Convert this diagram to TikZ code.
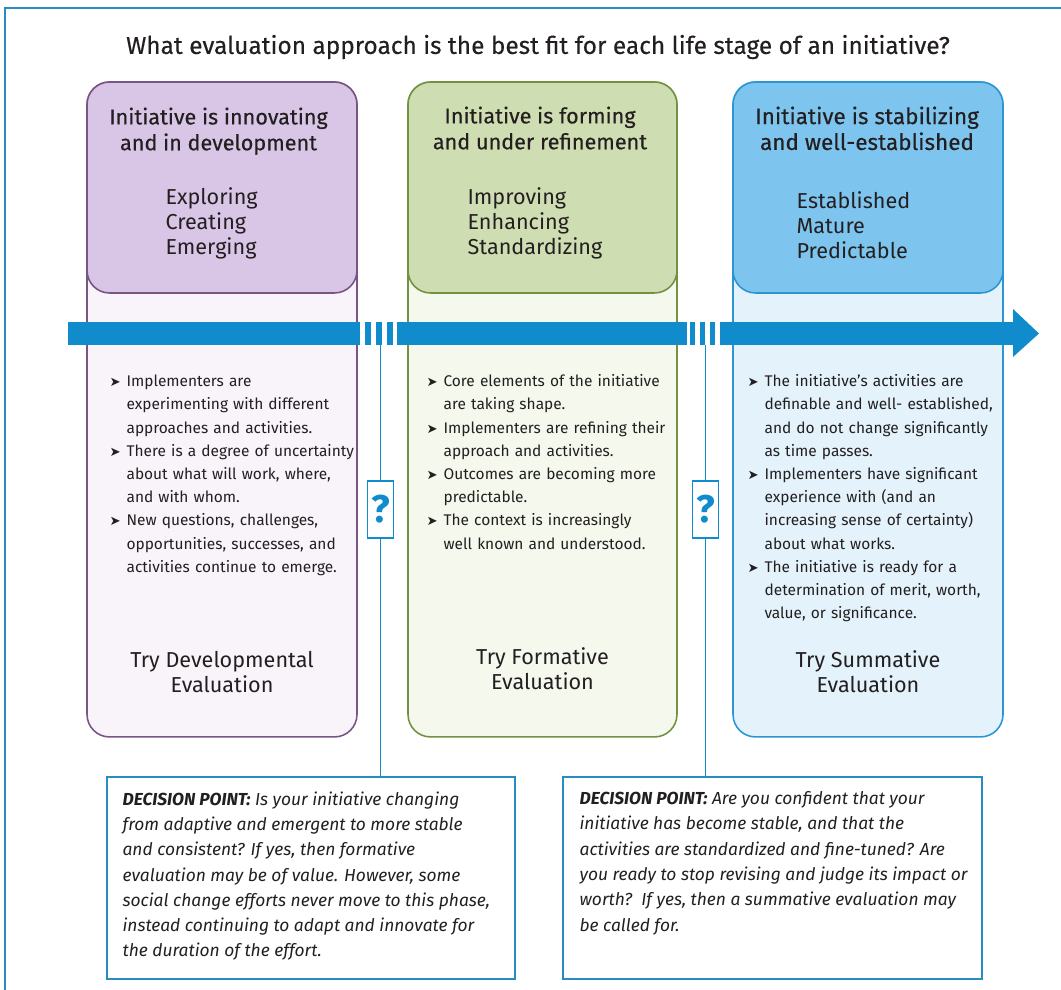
\documentclass[tikz,border=0pt]{standalone}
\usepackage{fontspec}
\setmainfont{Fira Sans}
\newfontfamily\arrowfont{DejaVu Sans}
\newfontfamily\headfont[FakeBold=0.35]{Fira Sans}
\usetikzlibrary{shapes.geometric}

\definecolor{framebl}{RGB}{40,140,195}
\definecolor{arrowbl}{RGB}{16,140,205}
\definecolor{inkgrey}{RGB}{35,31,32}
\definecolor{purpleedge}{RGB}{120,85,130}
\definecolor{purplefill}{RGB}{217,197,229}
\definecolor{purplepale}{RGB}{248,244,250}
\definecolor{greenedge}{RGB}{115,145,65}
\definecolor{greenfill}{RGB}{207,222,178}
\definecolor{greenpale}{RGB}{244,248,237}
\definecolor{blueedge}{RGB}{45,150,210}
\definecolor{bluefill}{RGB}{125,197,238}
\definecolor{bluepale}{RGB}{227,242,251}

\tikzstyle{stagebody} = [rectangle, rounded corners=0.45cm, minimum height=13.1cm, line width=0.9pt]
\tikzstyle{stagehead} = [rectangle, rounded corners=0.45cm, minimum height=4.22cm, line width=0.9pt]
\tikzstyle{headtitle} = [align=center, inner sep=0pt, text=inkgrey, font=\headfont\fontsize{12.3}{14.7}\selectfont]
\tikzstyle{headwords} = [align=left, inner sep=0pt, text=inkgrey, font=\fontsize{12.3}{14.2}\selectfont]
\tikzstyle{points} = [align=left, text width=5.2cm, inner sep=0pt, text=inkgrey, font=\fontsize{8.8}{13.2}\selectfont]
\tikzstyle{trytext} = [align=center, inner sep=0pt, text=inkgrey, font=\fontsize{12.3}{14.2}\selectfont]
\tikzstyle{qbox} = [rectangle, draw=arrowbl, fill=white, line width=0.8pt, minimum width=0.52cm, minimum height=1.14cm, inner sep=0pt, text=arrowbl, font=\bfseries\fontsize{22}{22}\selectfont]
\tikzstyle{decision} = [rectangle, draw=framebl, fill=white, line width=0.9pt, minimum height=4.04cm]
\tikzstyle{dptext} = [align=left, inner sep=0pt, text=inkgrey, font=\itshape\fontsize{9.9}{14.4}\selectfont]
\tikzstyle{link} = [draw=arrowbl, line width=0.7pt]

\newcommand{\stagepoint}{\par\noindent\hangindent=1.1em\hangafter=1\makebox[1.1em][l]{\arrowfont\fontsize{7.5}{7.5}\selectfont ➤}}

\begin{document}
\begin{tikzpicture}[x=0.02cm, y=-0.02cm]
    \useasboundingbox (0,0) rectangle (1061,990);
    \draw[framebl, line width=0.9pt] (5,990) -- (5,8) -- (1061,8);

    \node (question) [font=\headfont\fontsize{13.9}{16}\selectfont, text=inkgrey] at (538,47) {What evaluation approach is the best fit for each life stage of an initiative?};

    % developmental stage
    \node (devbody) [stagebody, minimum width=5.4cm, draw=purpleedge, fill=purplepale] at (222,409.5) {};
    \node (devhead) [stagehead, minimum width=5.4cm, draw=purpleedge, fill=purplefill] at (222,187.5) {};
    \node (devtitle) [headtitle, anchor=north] at ([xshift=-0.07cm, yshift=-0.52cm]devhead.north) {Initiative is innovating\\and in development};
    \node (devwords) [headwords, anchor=north west] at ([xshift=1.58cm, yshift=-2.12cm]devhead.north west) {Exploring\\Creating\\Emerging};
    \node (devpoints) [points, anchor=north west] at ([xshift=0.46cm, yshift=-5.64cm]devbody.north west)
        {\stagepoint Implementers are\newline experimenting with different\newline approaches and activities.
         \stagepoint There is a degree of uncertainty\newline about what will work, where,\newline and with whom.
         \stagepoint New questions, challenges,\newline opportunities, successes, and\newline activities continue to emerge.\par};
    \node (devtry) [trytext, anchor=north] at ([yshift=1.74cm]devbody.south) {Try Developmental\\Evaluation};

    % formative stage
    \node (formbody) [stagebody, minimum width=5.38cm, draw=greenedge, fill=greenpale] at (542.5,409.5) {};
    \node (formhead) [stagehead, minimum width=5.38cm, draw=greenedge, fill=greenfill] at (542.5,187.5) {};
    \node (formtitle) [headtitle, anchor=north] at ([xshift=-0.05cm, yshift=-0.5cm]formhead.north) {Initiative is forming\\and under refinement};
    \node (formwords) [headwords, anchor=north west] at ([xshift=1.2cm, yshift=-2.12cm]formhead.north west) {Improving\\Enhancing\\Standardizing};
    \node (formpoints) [points, anchor=north west] at ([xshift=0.38cm, yshift=-5.64cm]formbody.north west)
        {\stagepoint Core elements of the initiative\newline are taking shape.
         \stagepoint Implementers are refining their\newline approach and activities.
         \stagepoint Outcomes are becoming more\newline predictable.
         \stagepoint The context is increasingly\newline well known and understood.\par};
    \node (formtry) [trytext, anchor=north] at ([yshift=1.8cm]formbody.south) {Try Formative\\Evaluation};

    % summative stage
    \node (sumbody) [stagebody, minimum width=5.4cm, draw=blueedge, fill=bluepale] at (868,409.5) {};
    \node (sumhead) [stagehead, minimum width=5.4cm, draw=blueedge, fill=bluefill] at (868,187.5) {};
    \node (sumtitle) [headtitle, anchor=north, font=\headfont\fontsize{12.8}{14.7}\selectfont] at ([xshift=-0.02cm, yshift=-0.5cm]sumhead.north) {Initiative is stabilizing\\and well-established};
    \node (sumwords) [headwords, anchor=north west] at ([xshift=1.28cm, yshift=-2.2cm]sumhead.north west) {Established\\Mature\\Predictable};
    \node (sumpoints) [points, anchor=north west] at ([xshift=0.3cm, yshift=-5.64cm]sumbody.north west)
        {\stagepoint The initiative's activities are\newline definable and well- established,\newline and do not change significantly\newline as time passes.
         \stagepoint Implementers have significant\newline experience with (and an\newline increasing sense of certainty)\newline about what works.
         \stagepoint The initiative is ready for a\newline determination of merit, worth,\newline value, or significance.\par};
    \node (sumtry) [trytext, anchor=north] at ([yshift=1.74cm]sumbody.south) {Try Summative\\Evaluation};

    % time arrow with breaks
    \fill[arrowbl] (68,322) rectangle (360,345);
    \foreach \x in {365,376,387} \fill[arrowbl] (\x,322) rectangle ++(6,23);
    \fill[arrowbl] (397,322) rectangle (687,345);
    \foreach \x in {690,700,710} \fill[arrowbl] (\x,322) rectangle ++(5,23);
    \fill[arrowbl] (720,322) rectangle (1013,345);
    \fill[arrowbl] (1013,309) -- (1039,333.5) -- (1013,357) -- cycle;

    % decision points
    \node (dpone) [decision, minimum width=8.16cm] at (311,878) {};
    \node (dptwo) [decision, minimum width=8.38cm] at (772.5,878) {};
    \node (dponetext) [dptext, anchor=north west] at ([xshift=0.32cm, yshift=-0.3cm]dpone.north west)
        {\textbf{DECISION POINT:} Is your initiative changing\\from adaptive and emergent to more stable\\and consistent? If yes, then formative\\evaluation may be of value. However, some\\social change efforts never move to this phase,\\instead continuing to adapt and innovate for\\the duration of the effort.};
    \node (dptwotext) [dptext, anchor=north west] at ([xshift=0.34cm, yshift=-0.3cm]dptwo.north west)
        {\textbf{DECISION POINT:} Are you confident that your\\initiative has become stable, and that the\\activities are standardized and fine-tuned? Are\\you ready to stop revising and judge its impact or\\worth?\ \ If yes, then a summative evaluation may\\be called for.};

    \coordinate (gapone) at (380.5,345);
    \coordinate (gaptwo) at (705.5,345);
    \node (qone) [qbox] at (380.5,509.5) {?};
    \node (qtwo) [qbox] at (705.5,509.5) {?};
    \draw[link] (gapone) -- (qone.north);
    \draw[link] (qone.south) -- (qone.south |- dpone.north);
    \draw[link] (gaptwo) -- (qtwo.north);
    \draw[link] (qtwo.south) -- (qtwo.south |- dptwo.north);

\end{tikzpicture}
\end{document}
